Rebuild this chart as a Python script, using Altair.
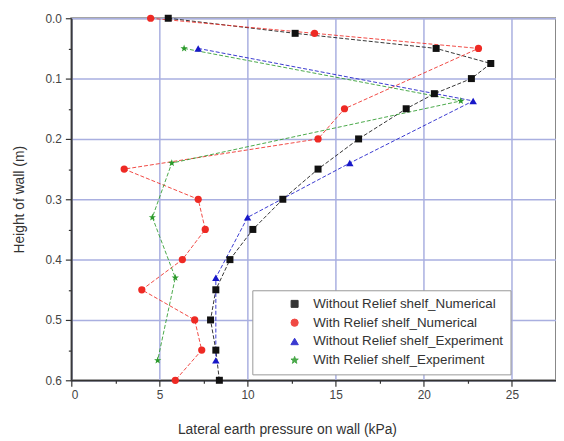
import altair as alt
import pandas as pd

# ---------------- data ----------------
SERIES = [
    "Without Relief shelf_Numerical",
    "With Relief shelf_Numerical",
    "Without Relief shelf_Experiment",
    "With Relief shelf_Experiment",
]

black_height = [0.0, 0.025, 0.05, 0.075, 0.1, 0.125, 0.15, 0.2, 0.25, 0.3, 0.35, 0.4, 0.45, 0.5, 0.55, 0.6]
black_pressure = [5.5, 12.7, 20.7, 23.8, 22.7, 20.6, 19.0, 16.3, 14.0, 12.0, 10.3, 9.0, 8.2, 7.9, 8.2, 8.4]

red_height = [0.0, 0.025, 0.05, 0.15, 0.2, 0.25, 0.3, 0.35, 0.4, 0.45, 0.5, 0.55, 0.6]
red_pressure = [4.5, 13.8, 23.1, 15.5, 14.0, 3.0, 7.2, 7.6, 6.3, 4.0, 7.0, 7.4, 5.9]

exp_height = [0.05, 0.137, 0.24, 0.33, 0.43, 0.567]
blue_pressure = [7.2, 22.8, 15.8, 10.0, 8.2, 8.2]
green_pressure = [6.4, 22.1, 5.7, 4.6, 5.9, 4.9]

x_tick_values = [0, 2.5, 5, 7.5, 10, 12.5, 15, 17.5, 20, 22.5, 25]
y_tick_values = [0, 0.05, 0.1, 0.15, 0.2, 0.25, 0.3, 0.35, 0.4, 0.45, 0.5, 0.55, 0.6]

# ---------------- styles ----------------
COLORS = ["#111111", "#ee2a24", "#1717c8", "#2a9a2a"]
STAR = "M0,-1L0.235,-0.324L0.951,-0.309L0.38,0.124L0.588,0.809L0,0.4L-0.588,0.809L-0.38,0.124L-0.951,-0.309L-0.235,-0.324Z"
SHAPES = ["square", "circle", "triangle-up", STAR]
SIZES = [50, 60, 55, 55]
FONT = "Liberation Sans"

rows = []
for name, hs, ps in [
    (SERIES[0], black_height, black_pressure),
    (SERIES[1], red_height, red_pressure),
    (SERIES[2], exp_height, blue_pressure),
    (SERIES[3], exp_height, green_pressure),
]:
    for i, (h, p) in enumerate(zip(hs, ps)):
        rows.append({"series": name, "height": h, "pressure": p, "idx": i})
df = pd.DataFrame(rows)

major_x = "datum.value % 5 === 0"
major_y = "abs(datum.value * 10 - round(datum.value * 10)) < 0.000001"

x_enc = alt.X(
    "pressure:Q",
    scale=alt.Scale(domain=[0, 27.5], nice=False, zero=False),
    axis=alt.Axis(
        title="Lateral earth pressure on wall (kPa)",
        values=x_tick_values,
        labelExpr="datum.value % 5 === 0 ? datum.label : ''",
        format="~g",
        tickSize={"condition": {"test": major_x, "value": 6}, "value": 3},
        gridOpacity={"condition": {"test": major_x, "value": 1}, "value": 0},
        labelPadding=3,
        titleX=218,
        titleY=50,
        titleAlign="center",
        titleBaseline="middle",
    ),
)
y_enc = alt.Y(
    "height:Q",
    scale=alt.Scale(domain=[0, 0.6], reverse=True, nice=False, zero=False),
    axis=alt.Axis(
        title="Height of wall (m)",
        values=y_tick_values,
        labelExpr=f"({major_y}) ? format(datum.value, '.1f') : ''",
        tickSize={"condition": {"test": major_y, "value": 6}, "value": 3},
        gridOpacity={"condition": {"test": major_y, "value": 1}, "value": 0},
        labelPadding=4,
        titleX=-52,
        titleY=183,
        titleAngle=-90,
        titleAlign="center",
        titleBaseline="middle",
    ),
)

color_scale = alt.Scale(domain=SERIES, range=COLORS)
shape_scale = alt.Scale(domain=SERIES, range=SHAPES)
size_scale = alt.Scale(domain=SERIES, range=SIZES)

lines = alt.Chart(df).mark_line(strokeDash=[4, 2], strokeWidth=1, opacity=0.85).encode(
    x=x_enc,
    y=y_enc,
    color=alt.Color("series:N", scale=color_scale, legend=alt.Legend(title=None)),
    detail="series:N",
    order=alt.Order("idx:Q"),
)

points = alt.Chart(df).mark_point(filled=True, opacity=1).encode(
    x=x_enc,
    y=y_enc,
    color=alt.Color("series:N", scale=color_scale, legend=alt.Legend(title=None)),
    shape=alt.Shape("series:N", scale=shape_scale, legend=alt.Legend(title=None)),
    size=alt.Size("series:N", scale=size_scale, legend=None),
)

chart = (
    alt.layer(lines, points)
    .properties(
        width=490,
        height=366,
        autosize="none",
        padding={"left": 64, "top": 8, "right": 0, "bottom": 58},
    )
    .configure_view(stroke="#888888", strokeWidth=2)
    .configure_axis(
        grid=True,
        gridColor="#a9afe0",
        gridWidth=1.5,
        domainColor="#333333",
        domainWidth=1.5,
        tickColor="#333333",
        tickWidth=1.2,
        labelFont=FONT,
        labelFontSize=12,
        labelColor="#444444",
        titleFont=FONT,
        titleFontSize=14,
        titleFontWeight="normal",
        titleColor="#333333",
    )
    .configure_legend(
        orient="none",
        legendX=183,
        legendY=275,
        fillColor="white",
        strokeColor="#999999",
        padding=7,
        labelFont=FONT,
        labelFontSize=13.5,
        labelColor="#333333",
        labelLimit=400,
        symbolSize=49,
        symbolStrokeWidth=1,
        symbolOffset=29,
        labelOffset=12,
        rowPadding=4,
    )
)

chart.save("out.html", embed_options={"renderer": "svg", "actions": False})
